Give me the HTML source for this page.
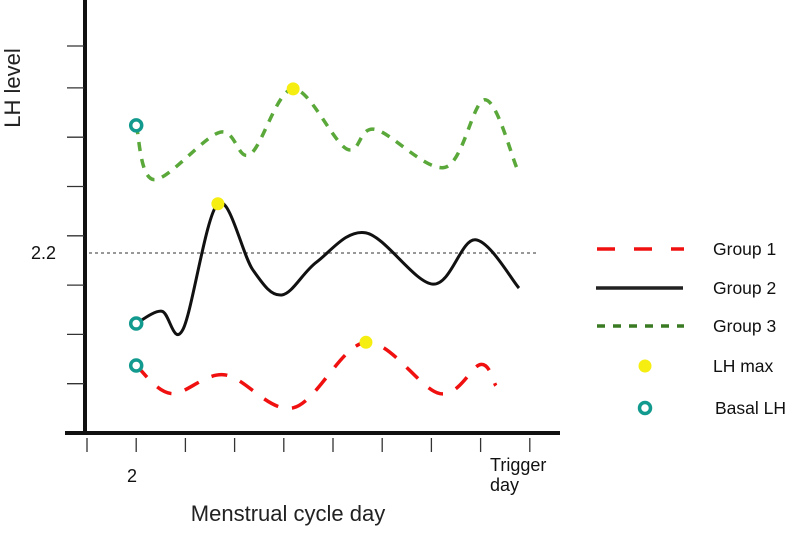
<!DOCTYPE html>
<html><head><meta charset="utf-8"><style>
body{margin:0;background:#fff;}
svg{display:block;font-family:"Liberation Sans",sans-serif;}
</style></head><body>
<svg id="c" width="787" height="534" viewBox="0 0 787 534">
<g id="axes"></g>
<g id="series"></g>
<g id="legend"></g>
</svg>
<script>
const xTickCount = 10;
const yTickValues = [1, 2, 3, 4, 5, 6, 7, 7.85];
const refValue = [3.65];
const refLabel = ["2.2"];
const g1x = [1, 1.71, 2.8, 4.19, 5.67, 7.17, 8.0, 8.31];
const g1y = [1.37, 0.8, 1.18, 0.51, 1.84, 0.8, 1.39, 0.96];
const g2x = [1, 1.52, 1.95, 2.66, 3.37, 3.96, 4.67, 5.67, 7.03, 7.89, 8.78];
const g2y = [2.22, 2.47, 2.1, 4.65, 3.31, 2.8, 3.47, 4.06, 3.02, 3.92, 2.94];
const g3x = [1, 1.36, 2.7, 3.31, 4.19, 5.28, 5.85, 7.28, 8.09, 8.74];
const g3y = [6.24, 5.14, 6.1, 5.65, 6.98, 5.76, 6.16, 5.39, 6.76, 5.37];
const maxPts = [[1,4],[2,3],[3,4]]; // [series, index]
const legendLabels = ["Group 1","Group 2","Group 3","LH max","Basal LH"];

const NS="http://www.w3.org/2000/svg";
const X = d => 87 + d*49.2;
const Y = v => 433 - v*49.3;
function el(tag, attrs, parent, name){
  const e=document.createElementNS(NS,tag);
  for(const k in attrs) e.setAttribute(k,attrs[k]);
  
  
  parent.appendChild(e); return e;
}
const axes=document.getElementById('axes');
el('line',{x1:85,y1:0,x2:85,y2:435,stroke:'#111','stroke-width':4},axes,'y-axis');
el('line',{x1:65,y1:433,x2:560,y2:433,stroke:'#111','stroke-width':4},axes,'x-axis');
yTickValues.forEach(v=>{
  el('line',{x1:67,y1:Y(v),x2:84,y2:Y(v),stroke:'#333','stroke-width':1.3},axes,'y-tick');
});
for(let i=0;i<xTickCount;i++){
  el('line',{x1:X(i),y1:438,x2:X(i),y2:452,stroke:'#333','stroke-width':1.3},axes,'x-tick');
}
el('line',{x1:89,y1:Y(refValue[0]),x2:537,y2:Y(refValue[0]),stroke:'#777','stroke-width':1.5,'stroke-dasharray':'3 3'},axes,'reference-line');
let t=el('text',{x:31,y:Y(refValue[0])+6,'font-size':18,'text-anchor':'start',fill:'#111'},axes,'y-tick-label');t.textContent=refLabel[0];
t=el('text',{x:132,y:482,'font-size':18,'text-anchor':'middle',fill:'#111'},axes,'x-tick-label');t.textContent="2";
t=el('text',{x:490,y:471,'font-size':18,fill:'#111'},axes,'x-tick-label');t.textContent="Trigger";
t=el('text',{x:490,y:491,'font-size':18,fill:'#111'},axes,'x-tick-label');t.textContent="day";
t=el('text',{x:288,y:521,'font-size':22,'text-anchor':'middle',fill:'#222'},axes,'x-axis-title');t.textContent="Menstrual cycle day";
t=el('text',{x:0,y:0,'font-size':22,'text-anchor':'middle',fill:'#222',transform:'translate(20,88) rotate(-90)'},axes,'y-axis-title');t.textContent="LH level";

function path(xs,ys){
  const p=xs.map((x,i)=>[X(x),Y(ys[i])]);
  let d=`M${p[0][0]},${p[0][1]}`;
  for(let i=0;i<p.length-1;i++){
    const p0=p[Math.max(0,i-1)],p1=p[i],p2=p[i+1],p3=p[Math.min(p.length-1,i+2)];
    const c1=[p1[0]+(p2[0]-p0[0])/6,p1[1]+(p2[1]-p0[1])/6];
    const c2=[p2[0]-(p3[0]-p1[0])/6,p2[1]-(p3[1]-p1[1])/6];
    d+=` C${c1[0]},${c1[1]} ${c2[0]},${c2[1]} ${p2[0]},${p2[1]}`;
  }
  return d;
}
const ser=document.getElementById('series');
const XS=[g1x,g2x,g3x], YS=[g1y,g2y,g3y];
el('path',{d:path(g3x,g3y),fill:'none',stroke:'#5aa83a','stroke-width':3.5,'stroke-dasharray':'9 8'},ser,'group-3-line');
el('path',{d:path(g2x,g2y),fill:'none',stroke:'#111','stroke-width':3},ser,'group-2-line');
el('path',{d:path(g1x,g1y),fill:'none',stroke:'#f01010','stroke-width':3.5,'stroke-dasharray':'16 14'},ser,'group-1-line');
for(let s=0;s<3;s++){
  el('circle',{cx:X(XS[s][0]),cy:Y(YS[s][0]),r:5.5,fill:'#fff',stroke:'#139a8e','stroke-width':3.5},ser,'basal-lh-point');
}
maxPts.forEach(([s,i])=>{
  el('circle',{cx:X(XS[s-1][i]),cy:Y(YS[s-1][i]),r:6.5,fill:'#f5ee10'},ser,'lh-max-point');
});
const lg=document.getElementById('legend');
const ly=[249,288,326,366,408];
el('line',{x1:597,y1:249,x2:684,y2:249,stroke:'#f01010','stroke-width':3.5,'stroke-dasharray':'18 19'},lg,'legend-group-1-swatch');
el('line',{x1:596,y1:288,x2:683,y2:288,stroke:'#222','stroke-width':3.5},lg,'legend-group-2-swatch');
el('line',{x1:597,y1:326,x2:684,y2:326,stroke:'#3a7a22','stroke-width':3.5,'stroke-dasharray':'8 8'},lg,'legend-group-3-swatch');
el('circle',{cx:645,cy:366,r:6.5,fill:'#f5ee10'},lg,'legend-lh-max-swatch');
el('circle',{cx:645,cy:408,r:5.5,fill:'#fff',stroke:'#139a8e','stroke-width':3.5},lg,'legend-basal-lh-swatch');
legendLabels.forEach((s,i)=>{
  const tt=el('text',{x:i==4?715:713,y:ly[i]+6,'font-size':17.5,fill:'#111'},lg,'legend-entry');
  tt.textContent=s;
});
</script>
</body></html>
